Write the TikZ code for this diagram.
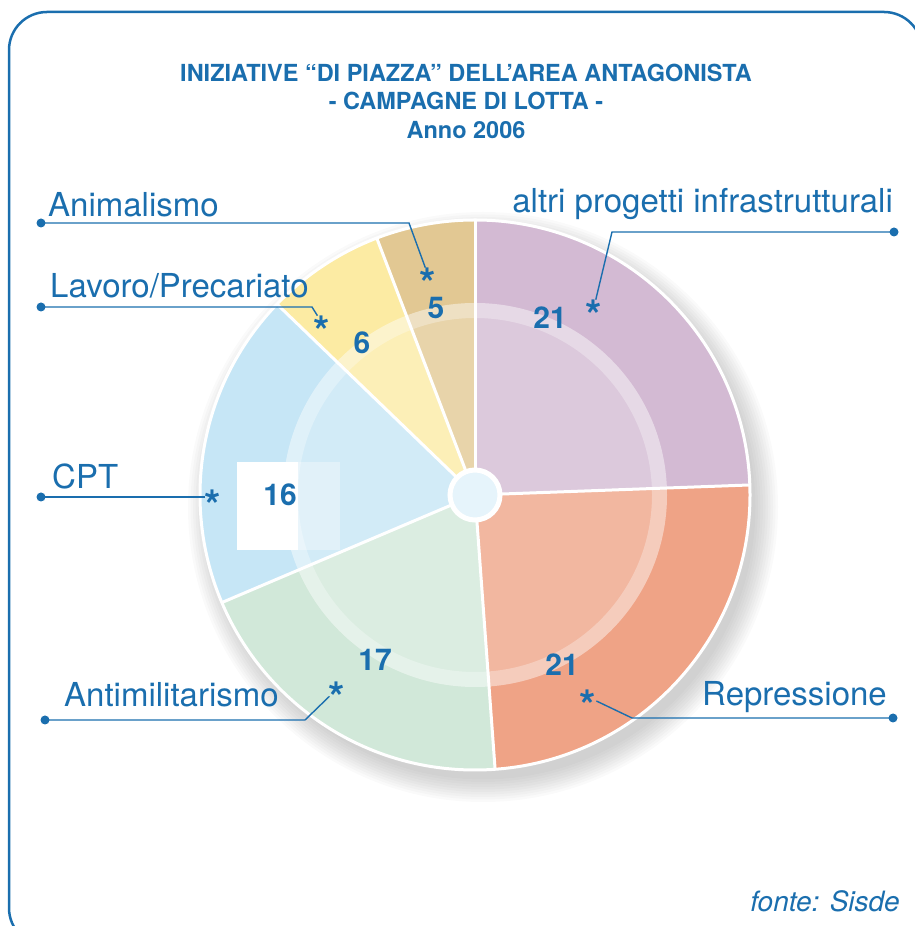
\documentclass[tikz,border=0pt]{standalone}
\usepackage{fontspec}
\setmainfont{TeX Gyre Heros}
\usetikzlibrary{positioning}
\definecolor{blu}{HTML}{1A6EAE}
\definecolor{altri}{HTML}{D3BAD3}
\definecolor{repr}{HTML}{EFA386}
\definecolor{antimil}{HTML}{D1E8D9}
\definecolor{cpt}{HTML}{C6E6F6}
\definecolor{lavoro}{HTML}{FCEBA3}
\definecolor{anim}{HTML}{E2C893}
\definecolor{centro}{HTML}{E6F4FB}
\newcommand{\stellina}{\raisebox{-0.55em}[0.17em][0.17em]{*}}

\begin{document}
\begin{tikzpicture}[x=1pt,y=1pt,
  etichetta/.style={font=\fontsize{33}{33}\selectfont,text=blu,inner sep=0pt},
  numero/.style={font=\fontsize{30}{30}\selectfont\bfseries,text=blu,inner sep=0pt},
  stella/.style={font=\fontsize{42}{42}\selectfont\bfseries,text=blu,inner sep=0pt},
  guida/.style={blu,line width=1.4pt},
  punto/.style={circle,fill=blu,inner sep=0pt,minimum size=9pt}]
\useasboundingbox (0,0) rectangle (915,926);
\clip (0,0) rectangle (915,926);
% cornice
\draw[blu,line width=2.5pt,rounded corners=38pt] (9,-20) rectangle (922,914);
% titolo
\node[font=\fontsize{23.5}{28.5}\selectfont\bfseries,text=blu,align=center] (titolo) at (466,825)
  {INIZIATIVE “DI PIAZZA” DELL’AREA ANTAGONISTA\\- CAMPAGNE DI LOTTA -\\Anno 2006};
% ombra
\foreach \i in {1,...,10}
  \fill[black,opacity=0.018] (483,419) circle (270+2.5*\i);
% spicchi
\foreach \a/\b/\c in {90/2.09/altri,2.09/-85.81/repr,-85.81/-156.98/antimil,
                      -156.98/-223.95/cpt,136.05/110.93/lavoro,110.93/90/anim}
  \fill[\c] (475,431) -- ++(\a:275) arc (\a:\b:275) -- cycle;
% riquadro dietro il 16
\fill[white] (237,376) rectangle (298,464);
% anello interno
\fill[white,opacity=0.22] (475,431) circle (192);
\fill[white,opacity=0.3,even odd rule] (475,431) circle (192) circle (177);
\fill[white,opacity=0.35] (298,376) rectangle (340,464);
% bordi bianchi
\foreach \a in {90,2.09,-85.81,-156.98,136.05,110.93}
  \draw[white,line width=3pt] (475,431) -- ++(\a:275);
\draw[white,line width=3pt] (475,431) circle (275);
\node[circle,fill=centro,draw=white,line width=5pt,minimum size=50pt] (centro) at (475,431) {};
% valori
\node[numero] (nAltri) at (550,608) {21};
\node[numero] (nRepr) at (562,261) {21};
\node[numero] (nAntimil) at (375,266) {17};
\node[numero] (nCpt) at (280,431) {16};
\node[numero] (nLavoro) at (362,583) {6};
\node[numero] (nAnim) at (436,618) {5};
% asterischi
\node[stella] (sAltri) at (594,619) {\stellina};
\node[stella] (sRepr) at (588,229) {\stellina};
\node[stella] (sAntimil) at (337,237) {\stellina};
\node[stella] (sCpt) at (213,429) {\stellina};
\node[stella] (sLavoro) at (322,603) {\stellina};
\node[stella] (sAnim) at (428,651) {\stellina};
% etichette
\node[etichetta,anchor=base west] (lAnim) at (48,709) {Animalismo};
\node[etichetta,anchor=base west] (lLavoro) at (50,628) {Lavoro/Precariato};
\node[etichetta,anchor=base west] (lCpt) at (52,437) {CPT};
\node[etichetta,anchor=base west] (lAntimil) at (64,219) {Antimilitarismo};
\node[etichetta,anchor=base east] (lRepr) at (887,220) {Repressione};
\node[etichetta,anchor=base east] (lAltri) at (893,713) {altri progetti infrastrutturali};
\node[font=\fontsize{28}{28}\selectfont\itshape,text=blu,anchor=base east,inner sep=0pt] (fonte) at (900,14) {fonte: Sisde};
% linee guida
\node[punto] (pAnim) at (41,703) {};
\node[punto] (pLavoro) at (41,619) {};
\node[punto] (pCpt) at (41,429) {};
\node[punto] (pAntimil) at (45,206) {};
\node[punto] (pRepr) at (893,208) {};
\node[punto] (pAltri) at (894,694) {};
\coordinate (bAnim) at (409,703);
\coordinate (bLavoro) at (312,619);
\coordinate (bAntimil) at (305,206);
\coordinate (bRepr) at (632,208);
\coordinate (bAltri) at (612,694);
\draw[guida] (pAnim.center) -- (bAnim) -- (sAnim);
\draw[guida] (pLavoro.center) -- (bLavoro) -- (sLavoro);
\draw[guida] (pCpt.center) -- (sCpt);
\draw[guida] (pAntimil.center) -- (bAntimil) -- (sAntimil);
\draw[guida] (pRepr.center) -- (bRepr) -- (sRepr);
\draw[guida] (pAltri.center) -- (bAltri) -- (sAltri);
\end{tikzpicture}
\end{document}
